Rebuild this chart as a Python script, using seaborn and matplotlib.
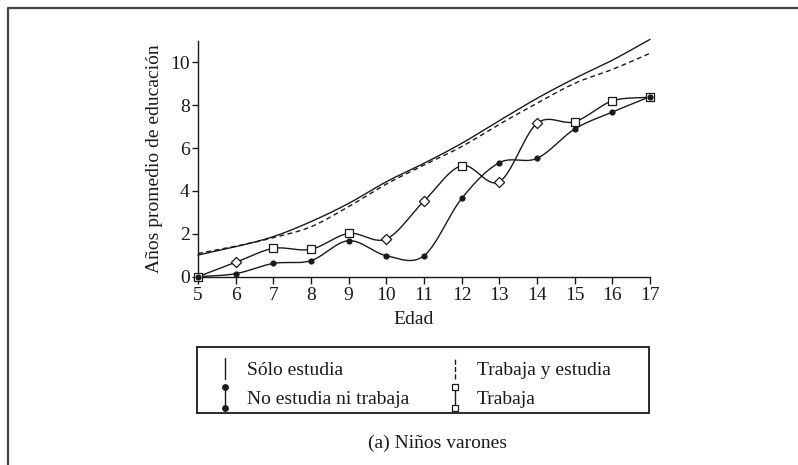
import numpy as np
import matplotlib
matplotlib.use("Agg")
import matplotlib.pyplot as plt
import seaborn as sns
from matplotlib.lines import Line2D
from matplotlib.patches import Rectangle
from matplotlib.legend_handler import HandlerBase

# Datos (años promedio de educación por edad)
edad = [5, 6, 7, 8, 9, 10, 11, 12, 13, 14, 15, 16, 17]
solo_estudia = [1.01, 1.40, 1.87, 2.57, 3.42, 4.43, 5.29, 6.22, 7.28, 8.32, 9.25, 10.10, 11.07]
trabaja_estudia = [1.08, 1.42, 1.82, 2.33, 3.27, 4.32, 5.21, 6.07, 7.11, 8.09, 9.02, 9.67, 10.42]
no_estudia = [0.0, 0.14, 0.62, 0.75, 1.68, 0.98, 0.98, 3.65, 5.32, 5.52, 6.89, 7.68, 8.40]
trabaja = [0.0, 0.67, 1.32, 1.28, 2.02, 1.76, 3.53, 5.18, 4.43, 7.15, 7.23, 8.20, 8.37]

etiquetas = ["Sólo estudia", "No estudia ni trabaja", "Trabaja y estudia", "Trabaja"]
# en el original algunos cuadrados aparecen girados
marcas_trabaja = ["s", "D", "s", "s", "s", "D", "D", "s", "D", "D", "s", "s", "s"]

NEGRO = "#1a1a1a"


def suavizar(x, y, n=24):
    """Curva Catmull-Rom que pasa por los puntos (solo para dibujar)."""
    x = np.asarray(x, float)
    y = np.asarray(y, float)
    yp = np.concatenate([[2 * y[0] - y[1]], y, [2 * y[-1] - y[-2]]])
    t = np.linspace(0, 1, n, endpoint=False)
    xs, ys = [], []
    for i in range(len(x) - 1):
        p0, p1, p2, p3 = yp[i:i + 4]
        yy = 0.5 * (2 * p1 + (-p0 + p2) * t + (2 * p0 - 5 * p1 + 4 * p2 - p3) * t ** 2
                    + (-p0 + 3 * p1 - 3 * p2 + p3) * t ** 3)
        xs.append(x[i] + t * (x[i + 1] - x[i]))
        ys.append(yy)
    xs.append([x[-1]])
    ys.append([y[-1]])
    return np.concatenate(xs), np.concatenate(ys)


class ManejadorVertical(HandlerBase):
    def create_artists(self, legend, orig_handle, xdescent, ydescent,
                       width, height, fontsize, trans):
        cx = width / 2 - xdescent
        y0 = -ydescent - 0.25 * height
        y1 = height - ydescent + 0.25 * height
        linea = Line2D([cx, cx], [y0, y1], color=NEGRO, lw=orig_handle.get_linewidth(),
                       linestyle=orig_handle.get_linestyle())
        linea.set_transform(trans)
        artistas = [linea]
        if orig_handle.get_marker() not in (None, "None", ""):
            m = Line2D([cx, cx], [y0, y1], linestyle="none", marker=orig_handle.get_marker(),
                       markersize=orig_handle.get_markersize(),
                       markerfacecolor=orig_handle.get_markerfacecolor(),
                       markeredgecolor=NEGRO, markeredgewidth=0.9)
            m.set_transform(trans)
            artistas.append(m)
        return artistas


sns.set_theme(style="ticks")
plt.rcParams["font.family"] = ["Liberation Serif", "DejaVu Serif"]
plt.rcParams["font.size"] = 14

fig = plt.figure(figsize=(7.98, 4.65), dpi=100)
ax = fig.add_axes([198 / 798, 1 - 276.7 / 465, 452 / 798, 235.8 / 465])

# curvas suavizadas
for serie, estilo in [(solo_estudia, "-"), (trabaja_estudia, (0, (3.5, 2.5))),
                      (no_estudia, "-"), (trabaja, "-")]:
    xs, ys = suavizar(edad, serie)
    sns.lineplot(x=xs, y=ys, ax=ax, estimator=None, sort=False, color=NEGRO,
                 linewidth=1.0, linestyle=estilo, clip_on=False)

# marcadores de "Trabaja"
for marca, tam in [("s", 32), ("D", 27)]:
    idx = [i for i, m in enumerate(marcas_trabaja) if m == marca]
    sns.scatterplot(x=[edad[i] for i in idx], y=[trabaja[i] for i in idx], ax=ax,
                    marker=marca, s=tam, facecolor="white", edgecolor=NEGRO,
                    linewidth=0.9, zorder=4, clip_on=False)

# marcadores de "No estudia ni trabaja"
sns.scatterplot(x=edad, y=no_estudia, ax=ax, marker="o", s=20, color=NEGRO,
                edgecolor=NEGRO, linewidth=0, zorder=5, clip_on=False)

ax.set_xlim(5, 17)
ax.set_ylim(0, 11)
ax.set_xticks(edad)
ax.set_yticks([0, 2, 4, 6, 8, 10])
sns.despine(ax=ax)
for lado in ["left", "bottom"]:
    ax.spines[lado].set_color(NEGRO)
    ax.spines[lado].set_linewidth(1.0)
ax.tick_params(axis="x", direction="out", length=5, width=1.0, color=NEGRO, pad=2.5,
               labelsize=14, labelcolor=NEGRO)
ax.tick_params(axis="y", direction="out", length=4.5, width=1.0, color=NEGRO, pad=1.5,
               labelsize=14, labelcolor=NEGRO)

ax.set_xlabel("Edad", fontsize=14, color=NEGRO)
ax.xaxis.set_label_coords(0.478, -0.145)
ax.set_ylabel("Años promedio de educación", fontsize=14, color=NEGRO)
ax.yaxis.set_label_coords(-0.077, 0.5)

# leyenda
proxies = [
    Line2D([], [], color=NEGRO, lw=1.0, linestyle="-"),
    Line2D([], [], color=NEGRO, lw=1.0, linestyle="-", marker="o", markersize=4,
           markerfacecolor=NEGRO),
    Line2D([], [], color=NEGRO, lw=1.0, linestyle=(0, (2.5, 2.5))),
    Line2D([], [], color=NEGRO, lw=1.0, linestyle="-", marker="s", markersize=5,
           markerfacecolor="white"),
]
leg = fig.legend(proxies, etiquetas, ncol=2, loc="center left",
                 bbox_to_anchor=(197 / 798, 1 - 385 / 465), frameon=False,
                 handler_map={Line2D: ManejadorVertical()},
                 handlelength=1.0, handletextpad=0.62, columnspacing=1.85,
                 labelspacing=0.6, borderpad=0.45, fontsize=14, labelcolor=NEGRO)
fig.add_artist(Rectangle((197 / 798, 1 - 413 / 465), 452 / 798, 66 / 465,
                         transform=fig.transFigure, fill=False, edgecolor=NEGRO,
                         linewidth=1.3))

fig.text(437 / 798, 1 - 443 / 465, "(a) Niños varones", ha="center", va="center",
         fontsize=14, color=NEGRO)

# marco de la figura (solo izquierda y arriba)
fig.add_artist(Line2D([8 / 798, 8 / 798, 1], [0, 1 - 8 / 465, 1 - 8 / 465],
                      transform=fig.transFigure, color="#444444", linewidth=1.6))

fig.savefig("out.png", dpi=100)
